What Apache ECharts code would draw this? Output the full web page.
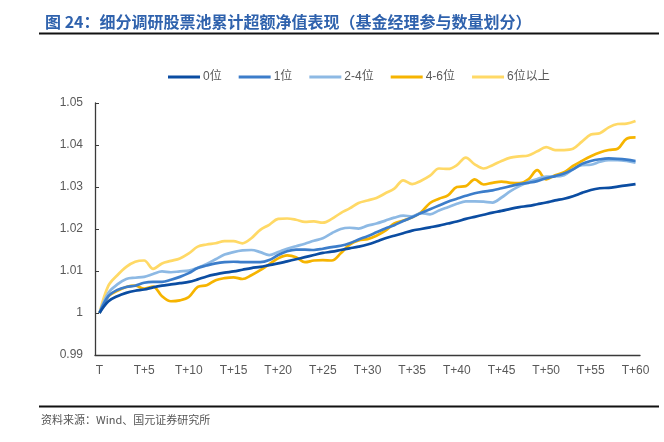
<!DOCTYPE html>
<html>
<head>
<meta charset="utf-8">
<script src="https://cdn.jsdelivr.net/npm/echarts@6/dist/echarts.min.js"></script>
<style>
html,body{margin:0;padding:0;background:#fff;}
#c{width:664px;height:442px;}
</style>
</head>
<body>
<div id="c"></div>
<script>
var categories = [];
for (var k = 0; k <= 60; k++) categories.push(k === 0 ? 'T' : 'T+' + k);

var seriesNames = ['0位', '1位', '2-4位', '4-6位', '6位以上'];

var s0 = [1.0000,1.0028,1.0040,1.0048,1.0053,1.0056,1.0061,1.0065,1.0068,1.0071,
          1.0074,1.0080,1.0087,1.0092,1.0096,1.0099,1.0103,1.0107,1.0110,1.0114,
          1.0118,1.0123,1.0128,1.0133,1.0138,1.0143,1.0146,1.0150,1.0154,1.0158,
          1.0163,1.0170,1.0178,1.0184,1.0190,1.0196,1.0200,1.0204,1.0208,1.0213,
          1.0218,1.0224,1.0229,1.0234,1.0239,1.0243,1.0248,1.0252,1.0255,1.0259,
          1.0263,1.0268,1.0272,1.0278,1.0286,1.0293,1.0297,1.0298,1.0301,1.0304,
          1.0307];
var s1 = [1.0000,1.0040,1.0055,1.0062,1.0065,1.0072,1.0074,1.0074,1.0079,1.0086,
          1.0095,1.0107,1.0113,1.0118,1.0121,1.0122,1.0121,1.0121,1.0121,1.0126,
          1.0138,1.0147,1.0151,1.0151,1.0150,1.0153,1.0157,1.0160,1.0166,1.0175,
          1.0183,1.0192,1.0201,1.0209,1.0219,1.0228,1.0238,1.0247,1.0256,1.0265,
          1.0272,1.0279,1.0285,1.0289,1.0292,1.0297,1.0302,1.0307,1.0310,1.0314,
          1.0321,1.0326,1.0332,1.0342,1.0355,1.0362,1.0366,1.0368,1.0367,1.0365,
          1.0362];
var s2 = [1.0000,1.0048,1.0068,1.0081,1.0084,1.0086,1.0093,1.0099,1.0097,1.0099,
          1.0101,1.0108,1.0117,1.0128,1.0139,1.0145,1.0149,1.0150,1.0145,1.0138,
          1.0145,1.0153,1.0159,1.0165,1.0172,1.0178,1.0190,1.0200,1.0203,1.0201,
          1.0208,1.0213,1.0220,1.0227,1.0232,1.0230,1.0238,1.0235,1.0244,1.0252,
          1.0260,1.0266,1.0266,1.0265,1.0263,1.0275,1.0290,1.0302,1.0312,1.0319,
          1.0325,1.0325,1.0328,1.0342,1.0352,1.0353,1.0360,1.0364,1.0364,1.0362,
          1.0358];
var s3 = [1.0000,1.0040,1.0053,1.0062,1.0065,1.0058,1.0063,1.0040,1.0028,1.0030,
          1.0038,1.0062,1.0066,1.0078,1.0083,1.0085,1.0081,1.0090,1.0102,1.0116,
          1.0130,1.0137,1.0133,1.0121,1.0125,1.0126,1.0125,1.0142,1.0163,1.0173,
          1.0176,1.0184,1.0196,1.0213,1.0220,1.0228,1.0240,1.0262,1.0272,1.0280,
          1.0300,1.0302,1.0318,1.0306,1.0310,1.0313,1.0310,1.0309,1.0318,1.0340,
          1.0318,1.0328,1.0335,1.0350,1.0362,1.0373,1.0382,1.0388,1.0391,1.0415,
          1.0418];
var s4 = [1.0000,1.0065,1.0090,1.0110,1.0122,1.0125,1.0105,1.0118,1.0124,1.0130,
          1.0142,1.0158,1.0163,1.0166,1.0171,1.0171,1.0166,1.0178,1.0198,1.0210,
          1.0224,1.0225,1.0222,1.0217,1.0218,1.0215,1.0224,1.0238,1.0249,1.0262,
          1.0268,1.0274,1.0285,1.0296,1.0316,1.0307,1.0315,1.0327,1.0344,1.0343,
          1.0352,1.0370,1.0354,1.0344,1.0352,1.0362,1.0370,1.0373,1.0375,1.0385,
          1.0395,1.0388,1.0388,1.0391,1.0408,1.0425,1.0428,1.0442,1.0450,1.0451,
          1.0457];

var seriesData = [s0, s1, s2, s3, s4];
var colors = ['#0B4DA2', '#3C7DCA', '#8DB9E4', '#F6B400', '#FFD966'];

var yMin = 0.99, yMax = 1.05, yStep = 0.01;

var chart = echarts.init(document.getElementById('c'), null, {renderer: 'canvas'});
var font = '"Liberation Sans", "Noto Sans CJK SC", Arial, sans-serif';

var series = seriesNames.map(function (n, i) {
  return {
    name: n,
    type: 'line',
    data: seriesData[i],
    smooth: 0.35,
    symbol: 'none',
    z: 2 + (seriesNames.length - i),
    lineStyle: {width: 2.7, color: colors[i]},
    itemStyle: {color: colors[i]}
  };
});

chart.setOption({
  animation: false,
  backgroundColor: '#ffffff',
  title: {
    text: '图 24：细分调研股票池累计超额净值表现（基金经理参与数量划分）',
    left: 40, top: 9,
    textStyle: {fontFamily: '"Noto Sans CJK SC", sans-serif', fontSize: 16, fontWeight: 'bold', color: '#2F62AD'}
  },
  legend: {
    left: 163, top: 66,
    icon: 'rect',
    itemWidth: 32, itemHeight: 3,
    itemGap: 17,
    textStyle: {fontFamily: font, fontSize: 12, color: '#595959', padding: [0, 0, 0, -2]},
    data: seriesNames
  },
  grid: {left: 95, right: 24, top: 103, bottom: 87, containLabel: false},
  xAxis: {
    type: 'category',
    data: categories,
    boundaryGap: true,
    axisLine: {lineStyle: {color: '#3a3a3a', width: 1.3}},
    axisTick: {inside: true, length: 4, interval: 4, lineStyle: {color: '#3a3a3a'}},
    axisLabel: {interval: 4, margin: 10, fontFamily: font, fontSize: 12, color: '#595959'},
    splitLine: {show: false}
  },
  yAxis: {
    type: 'value',
    min: yMin, max: yMax, interval: yStep,
    axisLine: {show: true, lineStyle: {color: '#3a3a3a', width: 1.3}},
    axisTick: {show: true, inside: true, length: 4, lineStyle: {color: '#3a3a3a'}},
    axisLabel: {
      margin: 12, fontFamily: font, fontSize: 12, color: '#595959',
      formatter: function (v) { return String(+(+v).toFixed(2)); }
    },
    splitLine: {show: false}
  },
  graphic: [
    {type: 'line', shape: {x1: 39, y1: 33.5, x2: 659, y2: 33.5}, style: {stroke: '#111', lineWidth: 2}},
    {type: 'line', shape: {x1: 39, y1: 406.5, x2: 659, y2: 406.5}, style: {stroke: '#111', lineWidth: 2}},
    {type: 'text', left: 41, top: 414, style: {text: '资料来源：Wind、国元证券研究所', font: '11px "Noto Sans CJK SC", sans-serif', fill: '#555555'}}
  ],
  series: series
});
</script>
</body>
</html>
